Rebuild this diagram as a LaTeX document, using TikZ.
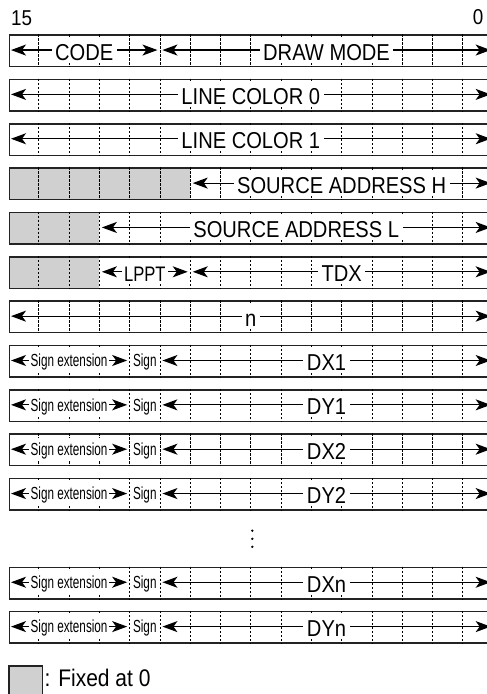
\documentclass[tikz,border=0pt]{standalone}
\usepackage{fontspec}
\setmainfont{Liberation Sans}
\newfontfamily\fmain[FakeStretch=0.875]{Liberation Sans}
\newfontfamily\fnarrow[FakeStretch=0.67]{Liberation Sans}
\newfontfamily\flppt[FakeStretch=0.79]{Liberation Sans}
\usetikzlibrary{arrows.meta,calc}
\definecolor{fixgray}{RGB}{208,208,208}
\definecolor{boxline}{RGB}{35,35,35}
\tikzset{
  regbox/.style={draw=boxline, line width=1.5pt, minimum width=484.6pt, minimum height=31.5pt, inner sep=0pt, anchor=north west},
  divider/.style={line width=0.9pt, dash pattern=on 2.2pt off 1.8pt},
  fieldarrow/.style={line width=1.2pt, {Stealth[length=15pt,width=11pt,inset=4pt]}-{Stealth[length=15pt,width=11pt,inset=4pt]}},
  lbl/.style={fill=white, inner xsep=3.5pt, inner ysep=0pt, text height=22.5pt, text depth=2.5pt, font=\fmain\fontsize{23}{23}\selectfont},
  lpptlbl/.style={lbl, inner xsep=2.5pt, font=\flppt\fontsize{21}{21}\selectfont},
  smalllbl/.style={fill=white, inner xsep=1.5pt, inner ysep=0pt, text height=17.8pt, text depth=5.2pt, font=\fnarrow\fontsize{17.5}{17.5}\selectfont},
  signlbl/.style={smalllbl, fill=none},
}
% #1 name, #2 row index
\newcommand\regrow[2]{%
  \node[regbox] (#1) at (8.5,{34.3+44.35*#2}) {};
  \foreach \j in {1,...,15}{\draw[divider] ($(#1.north west)+(30.29*\j,0)$) -- ($(#1.south west)+(30.29*\j,0)$);}
}
% #1 name, #2 row index, #3 left col, #4 right col, #5 label style, #6 text
\newcommand\regfield[6]{%
  \coordinate (#1-l) at ({8.5+30.29*#3+2.5},{34.3+44.35*#2+15.75});
  \coordinate (#1-r) at ({8.5+30.29*#4-2.5},{34.3+44.35*#2+15.75});
  \draw[fieldarrow] (#1-l) -- (#1-r);
  \node[#5] (#1) at ({8.5+30.29*(#3+#4)/2},{34.3+44.35*#2+15.75}) {#6};
}
% #1 name, #2 row index
\newcommand\signcell[2]{%
  \node[signlbl] (#1) at ({8.5+30.29*4.5},{34.3+44.35*#2+15.75}) {Sign};
}
% #1 row index, #2 number of fixed columns
\newcommand\fixedpart[2]{%
  \fill[fixgray] (8.5,{34.3+44.35*#1}) rectangle ++({30.29*#2},31.5);
}
\begin{document}
\begin{tikzpicture}[x=1pt,y=-1pt]
\useasboundingbox (0,0) rectangle (487,694);
\clip (0,0) rectangle (487,694);

\node[anchor=base west, inner sep=0pt, font=\fmain\fontsize{21.5}{21.5}\selectfont] (b15) at (11,25) {15};
\node[anchor=base east, inner sep=0pt, font=\fmain\fontsize{21.5}{21.5}\selectfont] (b0) at (483.5,24.5) {0};

\fixedpart{3}{6}
\fixedpart{4}{3}
\fixedpart{5}{3}

\regrow{rA}{0}
\regfield{code}{0}{0}{5}{lbl}{CODE}
\regfield{dmode}{0}{5}{16}{lbl}{DRAW MODE}

\regrow{rB}{1}
\regfield{lcz}{1}{0}{16}{lbl}{LINE COLOR 0}

\regrow{rC}{2}
\regfield{lco}{2}{0}{16}{lbl}{LINE COLOR 1}

\regrow{rD}{3}
\regfield{sah}{3}{6}{16}{lbl}{SOURCE ADDRESS H}

\regrow{rE}{4}
\regfield{sal}{4}{3}{16}{lbl}{SOURCE ADDRESS L}

\regrow{rF}{5}
\regfield{lppt}{5}{3}{6}{lpptlbl}{LPPT}
\regfield{tdx}{5}{6}{16}{lbl}{TDX}

\regrow{rG}{6}
\regfield{nn}{6}{0}{16}{lbl}{n}

\regrow{rH}{7}
\regfield{seA}{7}{0}{4}{smalllbl}{Sign extension}
\signcell{sgA}{7}
\regfield{dxA}{7}{5}{16}{lbl}{DX1}

\regrow{rI}{8}
\regfield{seB}{8}{0}{4}{smalllbl}{Sign extension}
\signcell{sgB}{8}
\regfield{dyA}{8}{5}{16}{lbl}{DY1}

\regrow{rJ}{9}
\regfield{seC}{9}{0}{4}{smalllbl}{Sign extension}
\signcell{sgC}{9}
\regfield{dxB}{9}{5}{16}{lbl}{DX2}

\regrow{rK}{10}
\regfield{seD}{10}{0}{4}{smalllbl}{Sign extension}
\signcell{sgD}{10}
\regfield{dyB}{10}{5}{16}{lbl}{DY2}

\fill (252.3,530.7) circle (1.3);
\fill (252.3,538.8) circle (1.3);
\fill (252.3,546.8) circle (1.3);

\regrow{rL}{12}
\regfield{seE}{12}{0}{4}{smalllbl}{Sign extension}
\signcell{sgE}{12}
\regfield{dxN}{12}{5}{16}{lbl}{DXn}

\regrow{rM}{13}
\regfield{seF}{13}{0}{4}{smalllbl}{Sign extension}
\signcell{sgF}{13}
\regfield{dyN}{13}{5}{16}{lbl}{DYn}

\node[draw=boxline, line width=1.5pt, fill=fixgray, minimum width=33.4pt, minimum height=33.4pt, inner sep=0pt, anchor=north west] (legend) at (8.3,665) {};
\node[anchor=base west, inner sep=0pt, font=\fmain\fontsize{24}{24}\selectfont] (legtxt) at (44.5,686.5) {: Fixed at 0};
\end{tikzpicture}
\end{document}
